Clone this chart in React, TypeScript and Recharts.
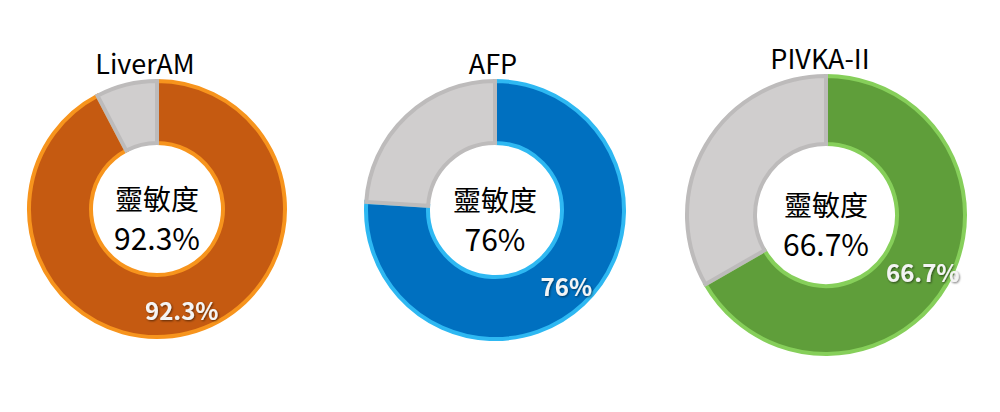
import React from 'react';
import { PieChart, Pie, Cell, Label } from 'recharts';

// ---- data ----
const chartNames = ['LiverAM', 'AFP', 'PIVKA-II'];
const sensitivity = [92.3, 76, 66.7];
const sensitivityLabels = ['92.3%', '76%', '66.7%'];
const centerTitle = '靈敏度';
const sliceNames = ['敏感', '其他'];

// ---- styles / layout (not data) ----
const layout = [
  { cx: 157, cy: 209, inner: 66, outer: 128, tdx: -12 },
  { cx: 495, cy: 210, inner: 67, outer: 129, tdx: -2 },
  { cx: 826, cy: 215, inner: 71, outer: 139, tdx: -6 },
];
const fills = [
  { main: '#C55A11', rim: '#F7941D' },
  { main: '#0070C0', rim: '#2EB8F2' },
  { main: '#5F9E3A', rim: '#86CF5A' },
];
const greyFill = '#D0CECE';
const greyRim = '#BDBBBB';
const FONT = '"Noto Sans CJK TC", "Noto Sans", sans-serif';

export default function App() {
  return (
    <div style={{ position: 'absolute', left: 0, top: 0, background: '#fff' }}>
      <PieChart width={1000} height={412} margin={{ top: 0, right: 0, bottom: 0, left: 0 }}>
        <defs>
          <filter id="txtShadow" x="-20%" y="-20%" width="140%" height="140%">
            <feDropShadow dx="1" dy="1" stdDeviation="1" floodColor="#000" floodOpacity="0.55" />
          </filter>
        </defs>
        {chartNames.map((name, i) => {
          const L = layout[i];
          const data = [
            { name: sliceNames[0], value: sensitivity[i] },
            { name: sliceNames[1], value: +(100 - sensitivity[i]).toFixed(1) },
          ];
          return (
            <Pie
              key={name}
              data={data}
              dataKey="value"
              nameKey="name"
              cx={L.cx}
              cy={L.cy}
              innerRadius={L.inner}
              outerRadius={L.outer}
              startAngle={90}
              endAngle={-270}
              paddingAngle={0}
              isAnimationActive={false}
              labelLine={false}
              label={(p: any) => {
                if (p.index !== 0) return null;
                const RAD = Math.PI / 180;
                const r = p.innerRadius + (p.outerRadius - p.innerRadius) * 0.6;
                const x = p.cx + r * Math.cos(-p.midAngle * RAD);
                const y = p.cy + r * Math.sin(-p.midAngle * RAD);
                return (
                  <text
                    x={x}
                    y={y}
                    fill="#F4F4F4"
                    fontFamily={FONT}
                    fontWeight={700}
                    fontSize={24}
                    textAnchor="middle"
                    dominantBaseline="central"
                    filter="url(#txtShadow)"
                  >
                    {sensitivityLabels[i]}
                  </text>
                );
              }}
            >
              <Cell fill={fills[i].main} stroke={fills[i].rim} strokeWidth={4} />
              <Cell fill={greyFill} stroke={greyRim} strokeWidth={4} />
              <Label
                content={(props: any) => {
                  const vb = props.viewBox || {};
                  const cx = vb.cx ?? L.cx;
                  const cy = vb.cy ?? L.cy;
                  const outer = vb.outerRadius ?? L.outer;
                  return (
                    <g>
                      <text
                        x={cx + L.tdx}
                        y={cy - outer - 19}
                        fontFamily={FONT}
                        fontSize={27}
                        fill="#000"
                        textAnchor="middle"
                        dominantBaseline="central"
                      >
                        {name}
                      </text>
                      <text
                        x={cx}
                        y={cy - 11}
                        fontFamily={FONT}
                        fontSize={28}
                        fill="#000"
                        textAnchor="middle"
                        dominantBaseline="central"
                      >
                        {centerTitle}
                      </text>
                      <text
                        x={cx}
                        y={cy + 28}
                        fontFamily={FONT}
                        fontSize={30}
                        fill="#000"
                        textAnchor="middle"
                        dominantBaseline="central"
                      >
                        {sensitivityLabels[i]}
                      </text>
                    </g>
                  );
                }}
              />
            </Pie>
          );
        })}
      </PieChart>
    </div>
  );
}
